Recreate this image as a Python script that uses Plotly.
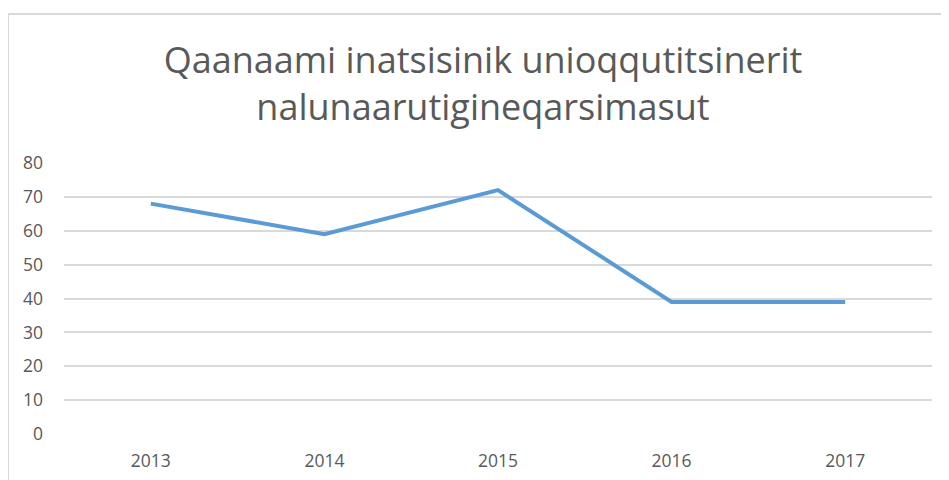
import plotly.graph_objects as go

years = ["2013", "2014", "2015", "2016", "2017"]
values = [68, 59, 72, 39, 39]
y_ticks = [0, 10, 20, 30, 40, 50, 60, 70, 80]
title_lines = ["Qaanaami inatsisinik unioqqutitsinerit", "nalunaarutigineqarsimasut"]

fig = go.Figure()
fig.add_trace(go.Scatter(
    x=years, y=values, mode="lines",
    line=dict(color="#5B9BD5", width=4),
    hoverinfo="x+y",
))

# page body has an 8px default margin; compensate so plot lands where the reference has it
OFF = 8
W, H = 949 - OFF, 480 - OFF
L, R, T, B = 64 - OFF, 17, 163 - OFF, 46
pw, ph = W - L - R, H - T - B

fig.update_layout(
    width=W, height=H,
    margin=dict(l=L, r=R, t=T, b=B),
    paper_bgcolor="white", plot_bgcolor="white",
    font=dict(family="Open Sans, Liberation Sans, sans-serif", color="#595959", size=17),
    title=dict(
        text="<br>".join(title_lines),
        x=(483 - OFF - L) / pw, xref="paper", xanchor="center",
        y=1 - 65 / H, yref="container", yanchor="top",
        font=dict(size=36, color="#595959"),
    ),
    showlegend=False,
    xaxis=dict(
        type="category", range=[-0.5, 4.5], showgrid=False, zeroline=False,
        showline=False, ticks="", ticklabelstandoff=14, automargin=False,
        tickfont=dict(size=17.5, color="#595959"),
    ),
    yaxis=dict(
        range=[0, 80], tickvals=y_ticks, showgrid=True, gridcolor="#D9D9D9",
        gridwidth=1.5, zeroline=False, showline=False, ticks="", automargin=False,
        ticklabelstandoff=20, tickfont=dict(size=17.5, color="#595959"),
    ),
    shapes=[dict(
        type="rect", xref="paper", yref="paper",
        x0=(0 - L) / pw, x1=(W + 20 - L) / pw,
        y0=-(B + 20) / ph, y1=1 + (T - (14 - OFF)) / ph,
        line=dict(color="#D9D9D9", width=2), layer="below",
    )],
)

fig.write_html("out.html")
